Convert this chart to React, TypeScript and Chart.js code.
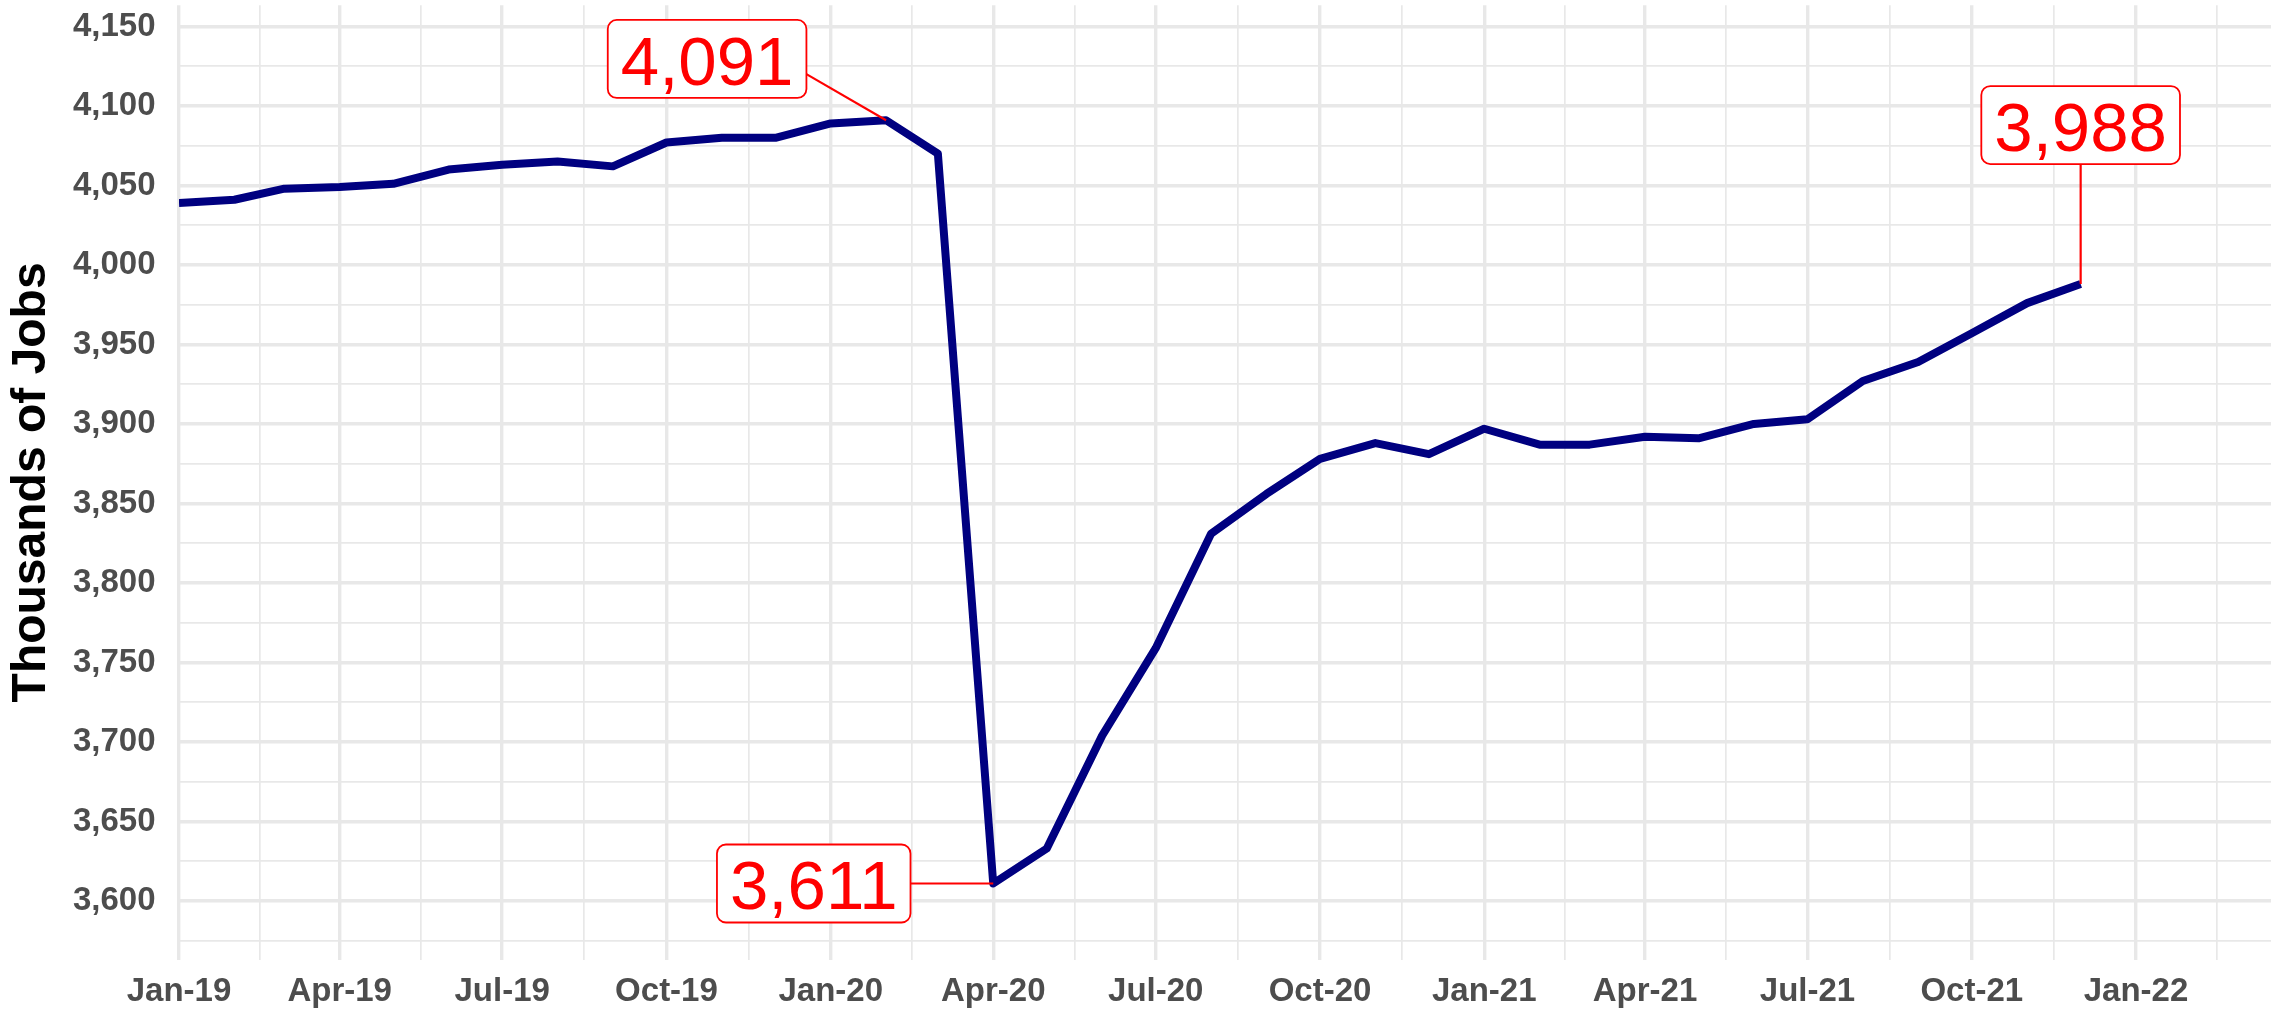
import React, { useEffect, useRef } from 'react';
import { Chart, registerables } from 'chart.js';

Chart.register(...registerables);

// ---- Data ----
const months = [
  '2019-01', '2019-02', '2019-03', '2019-04', '2019-05', '2019-06',
  '2019-07', '2019-08', '2019-09', '2019-10', '2019-11', '2019-12',
  '2020-01', '2020-02', '2020-03', '2020-04', '2020-05', '2020-06',
  '2020-07', '2020-08', '2020-09', '2020-10', '2020-11', '2020-12',
  '2021-01', '2021-02', '2021-03', '2021-04', '2021-05', '2021-06',
  '2021-07', '2021-08', '2021-09', '2021-10', '2021-11', '2021-12',
];

const jobs = [
  4039, 4041, 4048, 4049, 4051, 4060,
  4063, 4065, 4062, 4077, 4080, 4080,
  4089, 4091, 4070, 3611, 3633, 3704,
  3759, 3831, 3856, 3878, 3888, 3881,
  3897, 3887, 3887, 3892, 3891, 3900,
  3903, 3927, 3939, 3957, 3976, 3988,
];

const xTickDates = [
  '2019-01-01', '2019-04-01', '2019-07-01', '2019-10-01',
  '2020-01-01', '2020-04-01', '2020-07-01', '2020-10-01',
  '2021-01-01', '2021-04-01', '2021-07-01', '2021-10-01',
  '2022-01-01', '2022-04-01',
];
const xTickLabels = [
  'Jan-19', 'Apr-19', 'Jul-19', 'Oct-19',
  'Jan-20', 'Apr-20', 'Jul-20', 'Oct-20',
  'Jan-21', 'Apr-21', 'Jul-21', 'Oct-21',
  'Jan-22', 'Apr-22',
];

const yMajorTicks = [3600, 3650, 3700, 3750, 3800, 3850, 3900, 3950, 4000, 4050, 4100, 4150];
const yMinorTicks = [3575, 3625, 3675, 3725, 3775, 3825, 3875, 3925, 3975, 4025, 4075, 4125];

const calloutMonths = ['2020-02', '2020-04', '2021-12'];
const calloutTexts = ['4,091', '3,611', '3,988'];

// ---- Layout / style (not data) ----
const W = 2279;
const H = 1016;
const X_MAX_DAYS = 1171.6;
const Y_MIN = 3563.2;
const Y_MAX = 4163.3;
const FONT = '"Liberation Sans", Arial, Helvetica, sans-serif';
const calloutLayout = [
  { dx: -179, dy: -61.3, ax: 1, ay: 0.39 },
  { dx: -179.5, dy: 0, ax: 1, ay: 0 },
  { dx: 0, dy: -159, ax: 0, ay: 1 },
];

const dayOf = (s: string) => {
  const [yy, mm, dd] = s.split('-').map(Number);
  return (Date.UTC(yy, mm - 1, dd || 1) - Date.UTC(2019, 0, 1)) / 86400000;
};

const majorDays = xTickDates.map(dayOf);
const minorDays: number[] = [];
for (let i = 0; i < majorDays.length - 1; i++) minorDays.push((majorDays[i] + majorDays[i + 1]) / 2);
const xTicksAll = [...majorDays, ...minorDays].filter((d) => d >= 0 && d <= X_MAX_DAYS).sort((a, b) => a - b);
const yTicksAll = [...yMajorTicks, ...yMinorTicks].sort((a, b) => a - b);

const calloutPlugin = {
  id: 'calloutPlugin',
  afterDatasetsDraw(chart: any) {
    const { ctx, scales } = chart;
    const xs = scales.x;
    const ys = scales.y;
    ctx.save();
    const fs = 69;
    ctx.font = `${fs}px ${FONT}`;
    calloutMonths.forEach((m, k) => {
      const i = months.indexOf(m);
      if (i < 0) return;
      const px = xs.getPixelForValue(dayOf(months[i] + '-01'));
      const py = ys.getPixelForValue(jobs[i]);
      const lay = calloutLayout[k];
      const text = calloutTexts[k];
      const tw = ctx.measureText(text).width;
      const bw = tw + 26;
      const bh = 78;
      const cx = px + lay.dx;
      const cy = py + lay.dy;
      const sx = cx + lay.ax * bw / 2;
      const sy = cy + lay.ay * bh / 2;
      ctx.strokeStyle = '#FF0000';
      ctx.lineWidth = 2.2;
      ctx.beginPath();
      ctx.moveTo(sx, sy);
      ctx.lineTo(px, py);
      ctx.stroke();
      ctx.fillStyle = '#FFFFFF';
      ctx.lineWidth = 1.8;
      ctx.beginPath();
      (ctx as any).roundRect(cx - bw / 2, cy - bh / 2, bw, bh, 9);
      ctx.fill();
      ctx.stroke();
      ctx.fillStyle = '#FF0000';
      ctx.textAlign = 'center';
      ctx.textBaseline = 'alphabetic';
      ctx.fillText(text, cx, cy + 25.8);
    });
    ctx.restore();
  },
};

export default function App() {
  const ref = useRef<HTMLCanvasElement | null>(null);

  useEffect(() => {
    if (!ref.current) return;
    document.body.style.margin = '0';
    const points = months.map((m, i) => ({ x: dayOf(m + '-01'), y: jobs[i] }));
    const isMajorX = (v: number) => majorDays.some((d) => Math.abs(d - v) < 1e-6);
    const isMajorY = (v: number) => yMajorTicks.includes(v);

    const chart = new Chart(ref.current, {
      type: 'line',
      data: {
        datasets: [
          {
            data: points,
            borderColor: '#000080',
            borderWidth: 8,
            pointRadius: 0,
            fill: false,
            tension: 0,
            borderJoinStyle: 'round',
            borderCapStyle: 'butt',
          },
        ],
      },
      options: {
        animation: false,
        responsive: false,
        devicePixelRatio: 1,
        layout: { padding: { top: 5.3, right: 8, left: 0, bottom: 0 } },
        plugins: {
          legend: { display: false },
          tooltip: { enabled: false },
        },
        scales: {
          x: {
            type: 'linear',
            min: 0,
            max: X_MAX_DAYS,
            afterBuildTicks: (scale: any) => {
              scale.ticks = xTicksAll.map((v) => ({ value: v }));
            },
            afterFit: (scale: any) => {
              scale.height = H - 959.5;
              scale.paddingLeft = 0;
              scale.paddingRight = 0;
            },
            ticks: {
              autoSkip: false,
              maxRotation: 0,
              minRotation: 0,
              padding: 13,
              color: '#4D4D4D',
              font: { family: FONT, size: 33, weight: 'bold' },
              callback: (v: any) => {
                const idx = majorDays.findIndex((d) => Math.abs(d - Number(v)) < 1e-6);
                return idx >= 0 ? xTickLabels[idx] : '';
              },
            },
            grid: {
              drawTicks: false,
              color: '#E8E8E8',
              lineWidth: (c: any) => (c.tick && isMajorX(c.tick.value) ? 3.4 : 1.7),
            },
            border: { display: false },
          },
          y: {
            type: 'linear',
            min: Y_MIN,
            max: Y_MAX,
            afterBuildTicks: (scale: any) => {
              scale.ticks = yTicksAll.map((v) => ({ value: v }));
            },
            afterFit: (scale: any) => {
              scale.width = 179;
              scale.paddingTop = 0;
              scale.paddingBottom = 0;
            },
            ticks: {
              autoSkip: false,
              padding: 23.5,
              color: '#4D4D4D',
              font: { family: FONT, size: 33, weight: 'bold' },
              callback: (v: any) => (isMajorY(Number(v)) ? Number(v).toLocaleString('en-US') : ''),
            },
            grid: {
              drawTicks: false,
              color: '#E8E8E8',
              lineWidth: (c: any) => (c.tick && isMajorY(c.tick.value) ? 3.4 : 1.7),
            },
            border: { display: false },
            title: {
              display: true,
              text: 'Thousands of Jobs',
              color: '#000000',
              font: { family: FONT, size: 48, weight: 'bold' },
              padding: { top: 3, bottom: 0 },
            },
          },
        },
      },
      plugins: [calloutPlugin],
    } as any);

    return () => chart.destroy();
  }, []);

  return (
    <div style={{ position: 'fixed', left: 0, top: 0, width: W, height: H, background: '#FFFFFF' }}>
      <canvas ref={ref} width={W} height={H} style={{ width: W, height: H, display: 'block' }} />
    </div>
  );
}
